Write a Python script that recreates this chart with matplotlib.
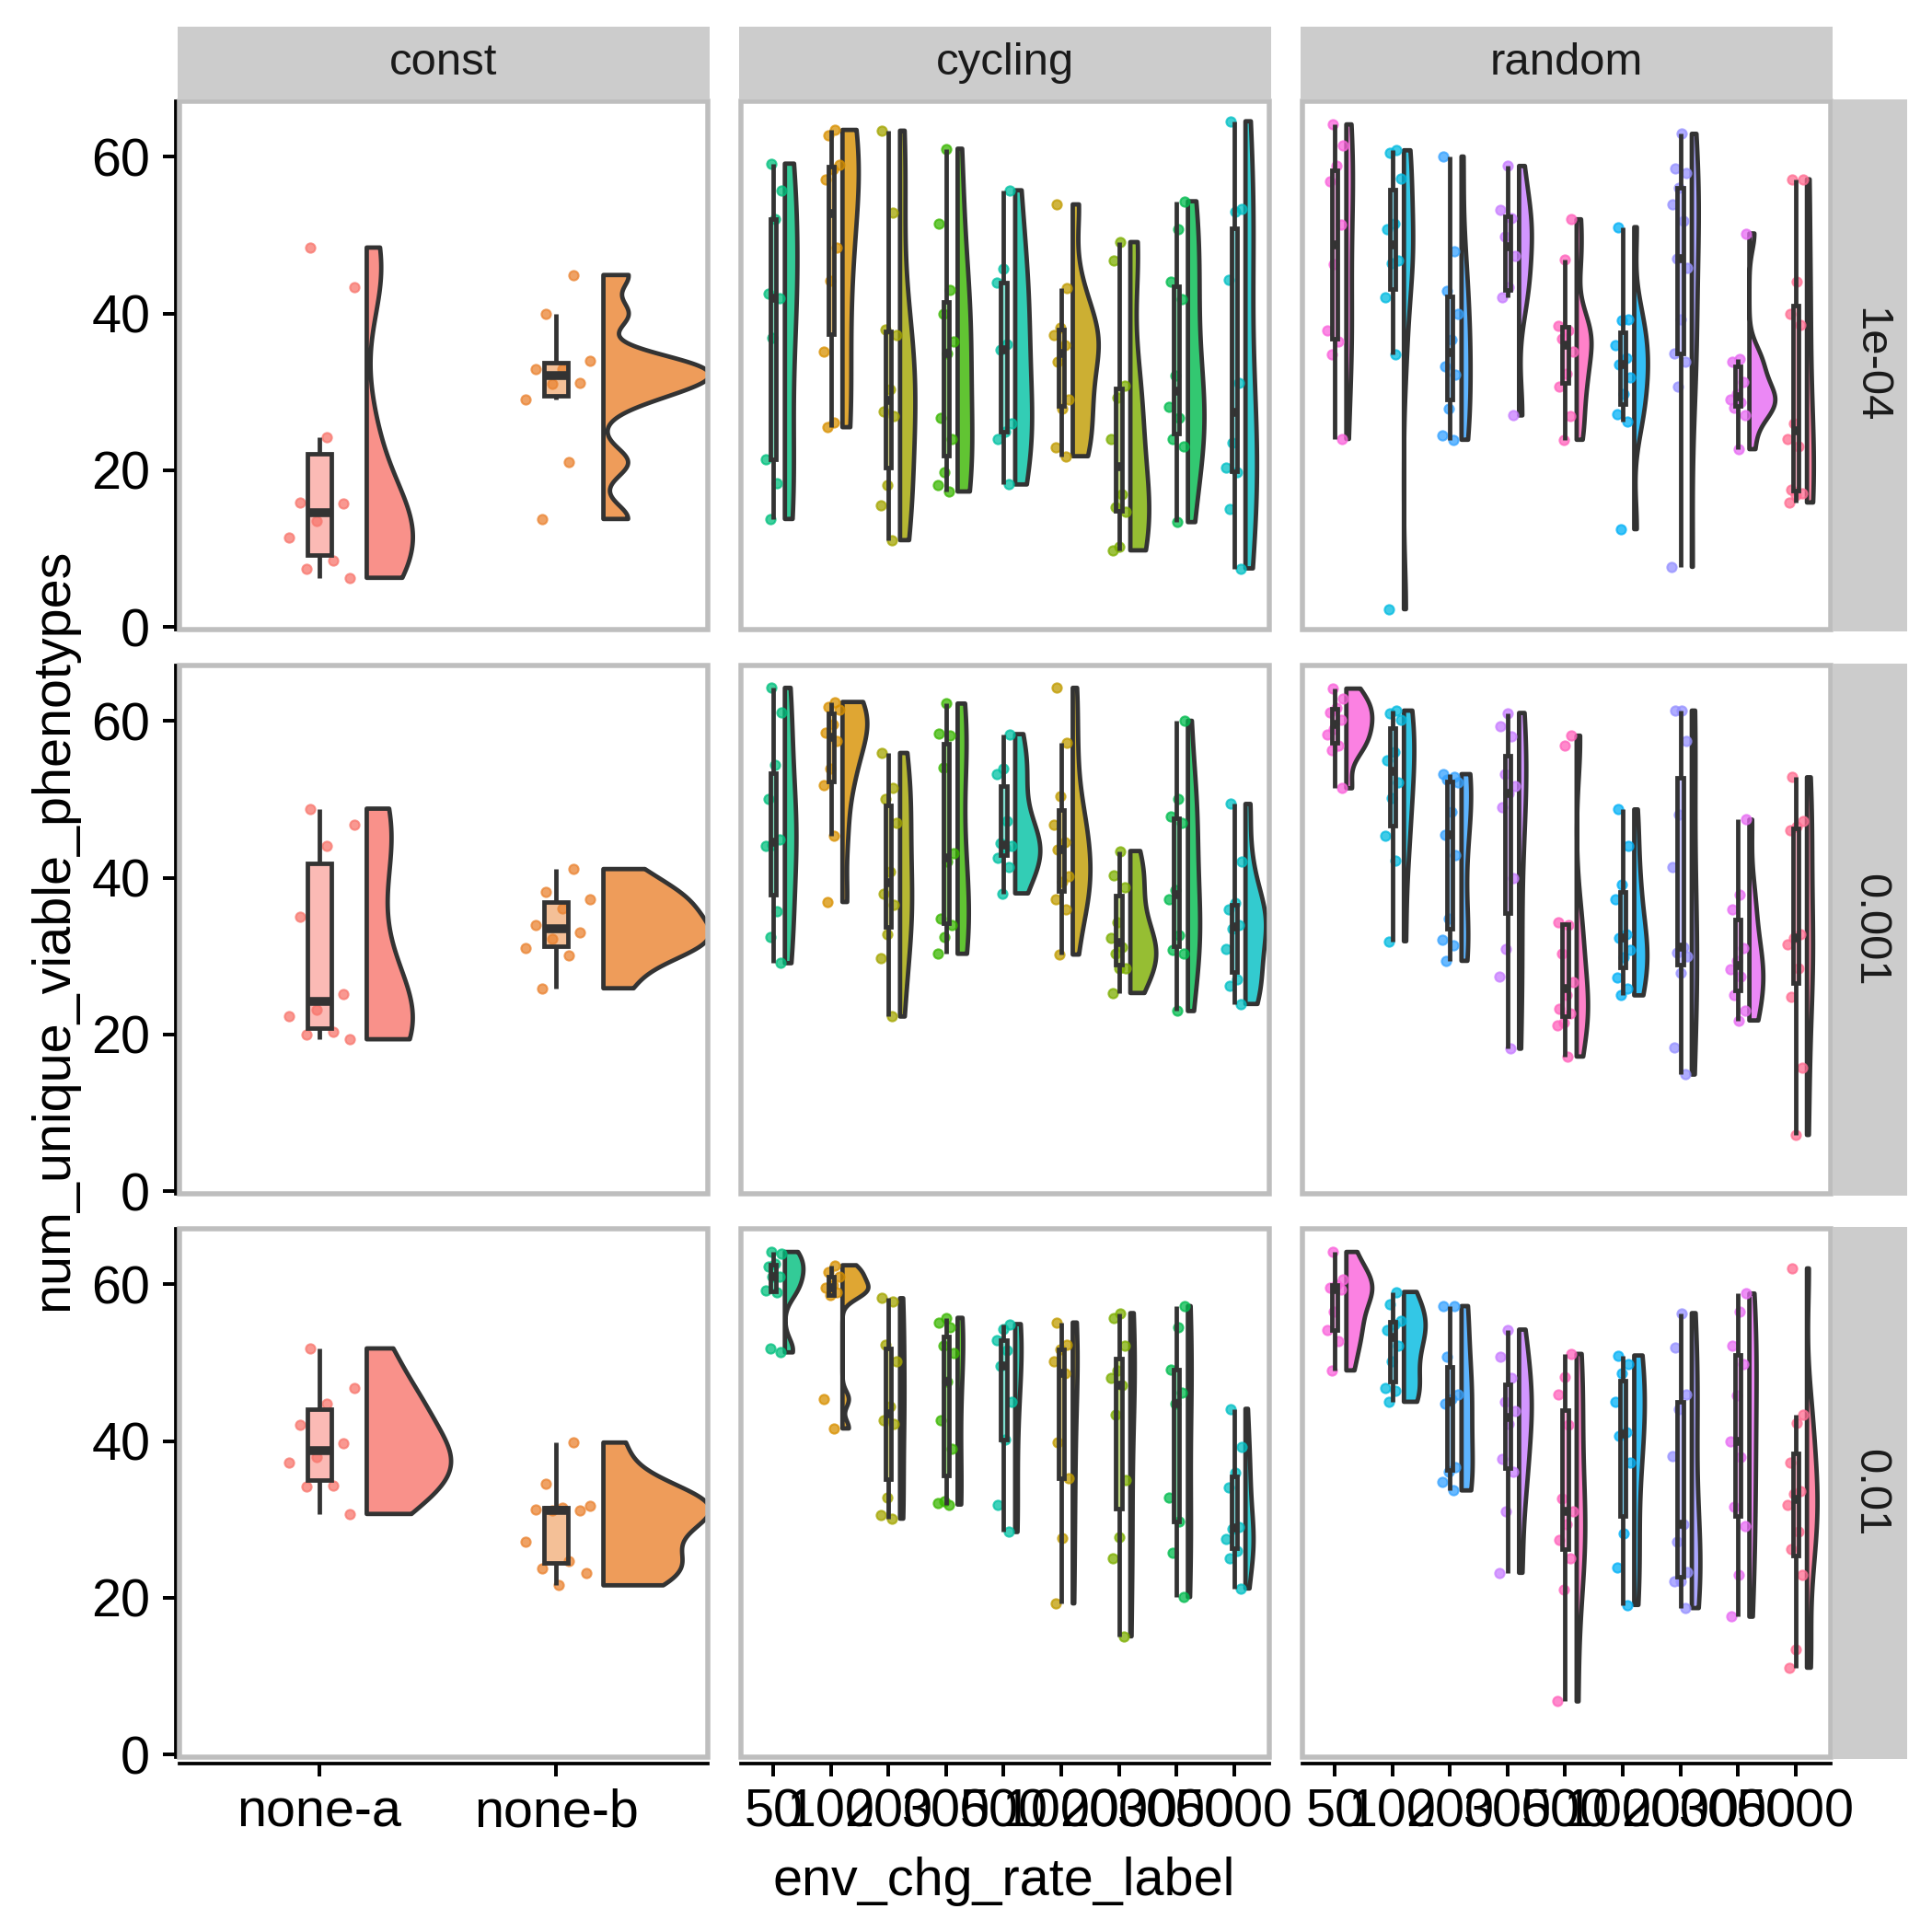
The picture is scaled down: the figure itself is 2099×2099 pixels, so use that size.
import numpy as np
import matplotlib
matplotlib.use('Agg')
import matplotlib.pyplot as plt
from matplotlib.patches import Rectangle
from matplotlib.colors import to_rgba

plt.rcParams['font.family'] = ['Liberation Sans', 'DejaVu Sans']

W = H = 2099
DPI = 300

# facet labels and x categories
col_labels = ['const', 'cycling', 'random']
row_labels = ['1e-04', '0.001', '0.01']
const_ticks = ['none-a', 'none-b']
rate_ticks = ['50', '100', '200', '300', '500', '1000', '2000', '3000', '5000']

const_colors = ['#F8766D', '#EA8331']
cycling_colors = ['#00BF7D', '#D89000', '#A3A500', '#39B600', '#00C1A3',
                  '#C09B00', '#7CAE00', '#00BB4E', '#00BFC4']
random_colors = ['#FA62DB', '#00BAE0', '#35A2FF', '#C77CFF', '#FF62BC',
                 '#00B0F6', '#9590FF', '#E76BF3', '#FF6C91']

# num_unique_viable_phenotypes (one list per category)
const_1e4 = [[48.4, 43.3, 24.2, 15.9, 15.8, 13.5, 11.4, 8.5, 7.4, 6.3],
             [44.9, 39.9, 34.0, 32.9, 32.9, 31.2, 31.0, 29.0, 21.0, 13.8]]
cycling_1e4 = [[59.1, 55.7, 52.0, 42.5, 41.9, 36.9, 21.4, 18.3, 13.8],
               [63.4, 62.7, 58.9, 58.4, 57.1, 48.4, 44.2, 35.1, 26.1, 25.5],
               [63.3, 52.8, 37.9, 37.2, 30.3, 27.5, 26.9, 18.1, 15.5, 11.1],
               [61.0, 51.4, 43.0, 40.0, 36.4, 34.9, 26.7, 24.0, 19.8, 18.1, 17.3],
               [55.7, 45.7, 43.9, 36.1, 35.4, 26.0, 24.9, 24.0, 18.2],
               [53.9, 43.2, 38.2, 37.3, 36.0, 33.9, 29.0, 27.9, 22.9, 21.8],
               [49.1, 46.8, 30.8, 29.3, 24.0, 16.9, 15.3, 14.7, 10.2, 9.8],
               [54.3, 50.8, 44.1, 41.8, 32.1, 28.1, 26.7, 24.0, 23.1, 13.4],
               [64.5, 53.3, 53.0, 44.3, 31.2, 23.5, 20.3, 19.8, 15.1, 7.5]]
random_1e4 = [[64.1, 61.4, 58.8, 56.8, 51.3, 46.3, 37.8, 36.4, 34.8, 24.0],
              [60.8, 60.5, 57.2, 51.5, 50.7, 46.8, 46.4, 42.0, 34.8, 2.3],
              [60.0, 47.9, 42.9, 40.0, 36.7, 33.3, 32.2, 27.9, 24.4, 23.9],
              [58.8, 53.2, 52.1, 49.8, 47.3, 43.3, 42.0, 27.0],
              [52.0, 46.9, 38.4, 37.8, 36.8, 35.1, 32.3, 30.7, 26.9, 23.9],
              [51.0, 39.3, 39.1, 36.0, 34.3, 33.5, 31.9, 29.7, 27.1, 26.2, 12.5],
              [62.9, 58.5, 57.9, 56.0, 53.9, 51.8, 47.0, 45.8, 39.3, 34.9, 33.9, 30.7, 7.7],
              [50.2, 34.2, 33.9, 31.3, 29.7, 29.0, 28.7, 28.0, 27.0, 22.7],
              [57.1, 57.1, 44.0, 40.0, 38.5, 26.0, 24.0, 23.0, 17.5, 17.1, 16.8, 15.9]]

const_1e3 = [[48.8, 46.8, 44.1, 35.0, 25.2, 23.2, 22.3, 20.4, 20.0, 19.4],
             [41.1, 38.2, 37.2, 36.1, 34.0, 33.0, 32.2, 31.0, 30.1, 25.9]]
cycling_1e3 = [[64.2, 61.1, 54.4, 50.0, 44.9, 44.2, 44.1, 35.7, 32.4, 29.1],
               [62.4, 61.8, 61.4, 59.5, 58.5, 57.4, 53.9, 51.8, 45.3, 36.9],
               [55.9, 51.4, 50.0, 47.0, 40.8, 38.0, 36.5, 32.8, 29.7, 22.3],
               [62.2, 58.4, 58.1, 54.0, 43.1, 42.0, 34.8, 34.0, 32.4, 30.3],
               [58.3, 53.9, 53.2, 47.2, 44.4, 44.0, 43.8, 42.5, 41.3, 38.0],
               [64.2, 57.2, 50.4, 46.8, 44.5, 43.6, 40.2, 39.5, 37.2, 35.9, 30.2],
               [43.4, 40.3, 38.8, 34.3, 32.3, 31.2, 30.3, 28.5, 28.4, 25.3],
               [60.0, 50.0, 47.8, 47.0, 38.4, 37.2, 32.7, 30.8, 30.3, 23.0],
               [49.4, 42.0, 36.8, 36.0, 34.0, 33.5, 30.9, 27.0, 26.2, 23.9]]
random_1e3 = [[64.1, 62.8, 61.7, 61.1, 60.1, 59.0, 58.3, 56.8, 56.2, 51.4],
              [61.3, 61.0, 60.1, 56.0, 55.0, 52.1, 50.2, 45.4, 42.2, 31.9],
              [53.2, 52.9, 52.5, 52.1, 48.4, 45.5, 42.9, 34.8, 32.1, 31.4, 29.4],
              [61.0, 59.3, 58.0, 53.2, 51.7, 50.7, 49.0, 40.0, 30.9, 27.4, 18.2],
              [58.1, 56.9, 34.3, 34.0, 30.3, 26.7, 25.0, 23.3, 22.7, 21.5, 21.2, 17.2],
              [48.7, 44.1, 39.1, 37.2, 32.8, 32.3, 30.8, 29.9, 27.3, 25.9, 25.0],
              [61.3, 61.3, 57.4, 48.0, 41.3, 31.2, 30.4, 30.0, 27.9, 18.3, 14.9],
              [47.4, 37.8, 35.9, 31.0, 29.4, 28.3, 27.4, 25.1, 23.0, 21.8],
              [52.8, 47.2, 46.5, 46.1, 32.8, 32.3, 31.5, 28.4, 24.8, 15.8, 7.2]]

const_1e2 = [[51.8, 46.8, 44.7, 42.0, 39.7, 37.9, 37.2, 34.3, 34.2, 30.7],
             [39.8, 34.6, 31.7, 31.5, 31.3, 31.2, 31.1, 27.1, 24.7, 23.7, 23.2, 21.6]]
cycling_1e2 = [[64.1, 63.9, 62.6, 62.2, 61.0, 60.9, 59.2, 59.0, 51.8, 51.3],
               [62.4, 61.5, 61.0, 59.9, 59.5, 59.0, 58.6, 45.3, 41.6],
               [58.2, 57.8, 52.3, 50.2, 44.4, 42.6, 42.2, 32.8, 30.6, 30.1],
               [55.7, 55.1, 54.5, 52.1, 51.2, 47.6, 42.6, 39.0, 32.3, 32.1, 31.9],
               [54.9, 54.3, 52.9, 51.6, 49.6, 45.0, 40.2, 31.9, 28.4],
               [55.1, 52.3, 51.7, 50.1, 48.6, 39.8, 35.2, 27.6, 19.3],
               [56.3, 55.7, 52.1, 49.0, 48.0, 47.1, 43.3, 35.0, 27.8, 25.0, 15.1],
               [57.2, 54.5, 49.1, 46.2, 44.8, 32.8, 29.7, 25.7, 20.1],
               [44.1, 39.3, 36.0, 34.1, 29.0, 28.8, 27.5, 26.0, 25.1, 21.2]]
random_1e2 = [[64.1, 60.6, 59.9, 59.6, 59.3, 56.5, 54.1, 52.7, 49.0],
              [59.0, 57.4, 55.3, 54.8, 54.2, 52.1, 50.1, 46.7, 46.4, 45.0],
              [57.2, 57.2, 50.7, 45.9, 45.3, 44.8, 36.7, 36.1, 34.8, 33.7],
              [54.2, 50.7, 48.0, 45.0, 43.8, 42.2, 37.7, 36.1, 31.0, 23.2],
              [51.1, 48.2, 45.9, 42.0, 32.7, 31.0, 29.4, 27.4, 25.0, 21.1, 6.8],
              [50.9, 49.8, 48.6, 45.0, 41.1, 40.7, 37.2, 28.2, 23.9, 19.1],
              [56.3, 51.9, 45.9, 44.0, 38.1, 29.4, 27.1, 23.3, 22.1, 22.1, 18.7],
              [58.8, 56.5, 52.1, 49.8, 45.8, 40.0, 38.0, 31.6, 29.2, 22.9, 17.6],
              [62.0, 43.3, 42.3, 37.2, 33.6, 33.2, 31.9, 28.5, 26.2, 22.9, 13.4, 11.1]]

grid = [[const_1e4, cycling_1e4, random_1e4],
        [const_1e3, cycling_1e3, random_1e3],
        [const_1e2, cycling_1e2, random_1e2]]
col_colors = [const_colors, cycling_colors, random_colors]
col_ticks = [const_ticks, rate_ticks, rate_ticks]

EDGE = '#333333'
LW = 1.15
# panel outer edges in pixels
col_x = [(192.7, 771.3), (802.7, 1381.3), (1412.7, 1991.3)]
row_y = [(107.7, 686.3), (720.7, 1299.3), (1332.7, 1911.3)]
INSET = 2.75


def bw_nrd0(v):
    sd = np.std(v, ddof=1)
    q75, q25 = np.percentile(v, [75, 25])
    lo = min(sd, (q75 - q25) / 1.34)
    if lo <= 0:
        lo = sd if sd > 0 else 1.0
    return 0.9 * lo * len(v) ** -0.2


def density(v):
    bw = bw_nrd0(v)
    ys = np.linspace(v.min(), v.max(), 512)
    d = np.exp(-0.5 * ((ys[:, None] - v[None, :]) / bw) ** 2).sum(1)
    return ys, d / (len(v) * bw * np.sqrt(2 * np.pi))


def draw_panel(ax, groups, colors):
    dens = [density(np.array(g, float)) for g in groups]
    dmax = max(d.max() for _, d in dens)
    for k, (g, col, (ys, d)) in enumerate(zip(groups, colors, dens), start=1):
        v = np.array(g, float)
        x0 = k + 0.2
        xs = np.concatenate([[x0], x0 + 0.45 * d / dmax, [x0]])
        yy = np.concatenate([[ys[0]], ys, [ys[-1]]])
        ax.fill(xs, yy, fc=to_rgba(col, 0.8), ec=EDGE, lw=LW, zorder=2,
                joinstyle='round')

        jit = ((np.arange(len(v)) * 0.618034 + k * 0.37) % 1 - 0.5) * 0.3
        ax.scatter(k + jit, v, s=6, c=[col], ec=[col], lw=0.5, alpha=0.75,
                   zorder=3)

        q1, med, q3 = np.percentile(v, [25, 50, 75])
        iqr = q3 - q1
        lo_w = v[v >= q1 - 1.5 * iqr].min()
        hi_w = v[v <= q3 + 1.5 * iqr].max()
        ax.plot([k, k], [q3, hi_w], color=EDGE, lw=LW, zorder=3.9,
                solid_capstyle='butt')
        ax.plot([k, k], [lo_w, q1], color=EDGE, lw=LW, zorder=3.9,
                solid_capstyle='butt')
        ax.add_patch(Rectangle((k - 0.05, q1), 0.1, q3 - q1,
                               fc=to_rgba(col, 0.5), ec=EDGE, lw=LW, zorder=4))
        ax.plot([k - 0.05, k + 0.05], [med, med], color=EDGE, lw=LW * 2,
                zorder=5, solid_capstyle='butt')


fig = plt.figure(figsize=(W / DPI, H / DPI), dpi=DPI)

for r in range(3):
    for c in range(3):
        x0, x1 = col_x[c]
        y0, y1 = row_y[r]
        ax = fig.add_axes([(x0 + INSET) / W, 1 - (y1 - INSET) / H,
                           (x1 - x0 - 2 * INSET) / W, (y1 - y0 - 2 * INSET) / H])
        groups = grid[r][c]
        n = len(groups)
        unit = (x1 - x0) / (n + 0.25)
        ax.set_xlim(0.4 + INSET / unit, n + 0.65 - INSET / unit)
        ax.set_ylim(-0.25, 67.0)
        draw_panel(ax, groups, col_colors[c])

        for s in ax.spines.values():
            s.set_visible(False)
        ax.add_patch(Rectangle((0, 0), 1, 1, transform=ax.transAxes, fill=False,
                               ec='#BEBEBE', lw=1.32, clip_on=False, zorder=10))

        if c == 0:
            ax.spines['left'].set_visible(True)
            ax.spines['left'].set_color('black')
            ax.spines['left'].set_linewidth(0.9)
            ax.spines['left'].set_position(('outward', 1.14))
            ax.set_yticks([0, 20, 40, 60])
            ax.tick_params(axis='y', length=3.3, width=0.95, pad=3.3,
                           labelsize=13.8, colors='black')
        else:
            ax.set_yticks([])
        if r == 2:
            ax.spines['bottom'].set_visible(True)
            ax.spines['bottom'].set_color('black')
            ax.spines['bottom'].set_linewidth(0.9)
            ax.spines['bottom'].set_position(('outward', 1.9))
            ax.set_xticks(range(1, n + 1))
            ax.set_xticklabels(col_ticks[c])
            ax.tick_params(axis='x', length=3.3, width=0.95, pad=2.9,
                           labelsize=13.8, colors='black')
        else:
            ax.set_xticks([])

# strips
for c in range(3):
    x0, x1 = col_x[c]
    fig.add_artist(Rectangle((x0 / W, 1 - 107.7 / H), (x1 - x0) / W, (107.7 - 29) / H,
                             transform=fig.transFigure, fc='#CCCCCC', ec='none'))
    fig.text((x0 + x1) / 2 / W, 1 - 68.4 / H, col_labels[c], ha='center',
             va='center', fontsize=11.8, color='#1A1A1A')
for r in range(3):
    y0, y1 = row_y[r]
    fig.add_artist(Rectangle((1991.3 / W, 1 - y1 / H), (2072 - 1991.3) / W, (y1 - y0) / H,
                             transform=fig.transFigure, fc='#CCCCCC', ec='none'))
    fig.text(2031.6 / W, 1 - (y0 + y1) / 2 / H, row_labels[r], ha='center',
             va='center', rotation=-90, fontsize=11.8, color='#1A1A1A')

fig.text(1091 / W, 1 - 2058.7 / H, 'env_chg_rate_label', ha='center',
         va='baseline', fontsize=13.8)
fig.text(58 / W, 1 - 1009.5 / H, 'num_unique_viable_phenotypes', ha='center',
         va='center', rotation=90, fontsize=13.8)

fig.savefig('out.png', dpi=DPI, facecolor='white')
